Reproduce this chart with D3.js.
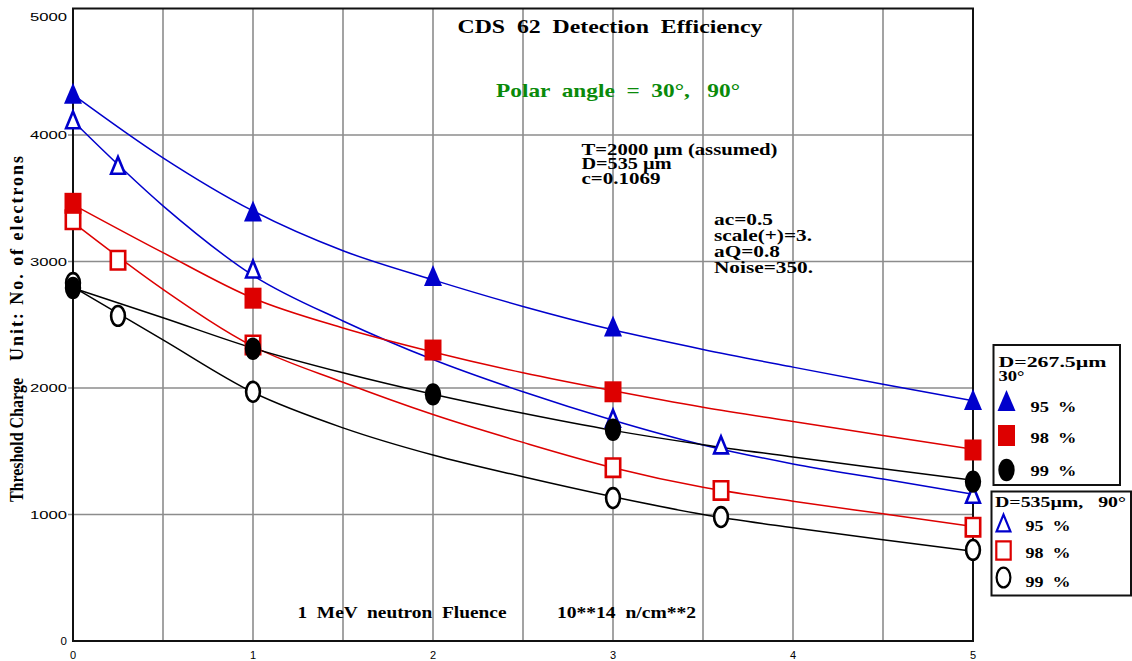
<!DOCTYPE html>
<html><head><meta charset="utf-8">
<script src="https://cdn.jsdelivr.net/npm/d3@7"></script>
<style>body{margin:0;background:#fff}svg{display:block}text{white-space:pre}</style>
</head><body><svg id="c" width="1132" height="661"></svg>
<script>
// ---------- data ----------
const xTickLabels = [0, 1, 2, 3, 4, 5];
const yTickLabels = [0, 1000, 2000, 3000, 4000, 5000];
const xGrid = [0.5, 1, 1.5, 2, 2.5, 3, 3.5, 4, 4.5];
const yGrid = [1000, 2000, 3000, 4000];

// measured points (markers)
const xA = [0, 1, 2, 3, 5];             const vA = [4330, 3400, 2890, 2490, 1910]; // D=267.5um 30deg 95%
const xC = [0, 1, 2, 3, 5];             const vC = [3460, 2710, 2300, 1970, 1510]; // 98%
const xE = [0, 1, 2, 3, 5];             const vE = [2790, 2310, 1950, 1670, 1260]; // 99%
const xB = [0, 0.25, 1, 3, 3.6, 5];     const vB = [4120, 3760, 2940, 1760, 1550, 1160]; // D=535um 90deg 95%
const xD = [0, 0.25, 1, 3, 3.6, 5];     const vD = [3330, 3010, 2340, 1370, 1190, 900];  // 98%
const xF = [0, 0.25, 1, 3, 3.6, 5];     const vF = [2830, 2570, 1970, 1130, 980, 720];   // 99%

// fitted curves
const fitX = [0, 0.5, 1, 1.5, 2, 2.5, 3, 3.5, 4, 4.5, 5];
const fitA = [4320, 3820, 3400, 3085, 2855, 2645, 2460, 2305, 2165, 2030, 1900];
const fitB = [4110, 3440, 2890, 2530, 2225, 1970, 1745, 1550, 1400, 1280, 1160];
const fitC = [3450, 3070, 2710, 2475, 2285, 2120, 1978, 1848, 1735, 1625, 1515];
const fitD = [3310, 2780, 2330, 2045, 1790, 1570, 1370, 1215, 1105, 1005, 905];
const fitE = [2790, 2555, 2315, 2120, 1950, 1800, 1665, 1552, 1455, 1362, 1270];
const fitF = [2800, 2380, 1965, 1685, 1470, 1298, 1140, 1000, 895, 800, 710];

const legend1Title = ["D=267.5\u00b5m", "30\u00b0"];
const legend2Title = "D=535\u00b5m,   90\u00b0";
const legendLabels = ["95  %", "98  %", "99  %"];

// ---------- setup ----------
const BLUE = "#0000cc", RED = "#dd0000", BLACK = "#000", GREEN = "#0a8a0a";
const svg = d3.select("#c");
const x = d3.scaleLinear().domain([0, 5]).range([73, 973]);
const y = d3.scaleLinear().domain([0, 5000]).range([641, 8.5]);
const serif = "'Liberation Serif','Times New Roman',serif";
const sans = "'Liberation Sans',Arial,sans-serif";

// grid
svg.append("g").selectAll("line").data(xGrid).join("line")
  .attr("x1", d => x(d)).attr("x2", d => x(d)).attr("y1", y(5000)).attr("y2", y(0))
  .attr("stroke", "#8c8c8c").attr("stroke-width", 1.6);
svg.append("g").selectAll("line").data(yGrid).join("line")
  .attr("x1", x(0) - 5).attr("x2", x(5)).attr("y1", d => y(d)).attr("y2", d => y(d))
  .attr("stroke", "#8c8c8c").attr("stroke-width", 1.6);

// frame
svg.append("rect").attr("x", x(0)).attr("y", y(5000)).attr("width", x(5) - x(0)).attr("height", y(0) - y(5000))
  .attr("fill", "none").attr("stroke", "#111").attr("stroke-width", 2);

// tick labels
svg.append("g").selectAll("text").data(xTickLabels).join("text")
  .attr("x", d => x(d)).attr("y", 659).attr("text-anchor", "middle")
  .attr("font-family", sans).attr("font-size", 11).text(d => d);
svg.append("g").selectAll("text").data(yTickLabels).join("text")
  .attr("x", 67).attr("y", d => Math.max(y(d), 17)).attr("dy", "0.36em").attr("text-anchor", "end")
  .attr("font-family", sans).attr("font-size", 11.5)
  .each(function(d) { if (String(d).length === 4) d3.select(this).attr("textLength", 37).attr("lengthAdjust", "spacingAndGlyphs"); })
  .text(d => d);

// marker path generator
function markerPath(type, cx, cy, open) {
  const s = open ? 1.3 : 0; // inset half stroke
  if (type === "tri") {
    const w = 18 - 2 * s * 1.6, h = 21 - 2 * s * 1.6;
    return `M${cx},${cy - h / 2}L${cx + w / 2},${cy + h / 2}L${cx - w / 2},${cy + h / 2}Z`;
  }
  if (type === "sq") {
    const w = 17 - 2 * s, h = 21 - 2 * s;
    return `M${cx - w / 2},${cy - h / 2}h${w}v${h}h${-w}Z`;
  }
  const rx = 8.2 - s, ry = 11.2 - s;
  return `M${cx - rx},${cy}a${rx},${ry} 0 1,0 ${2 * rx},0a${rx},${ry} 0 1,0 ${-2 * rx},0Z`;
}

const series = [
  { xs: xB, vs: vB, fit: fitB, type: "tri", color: BLUE, open: true },
  { xs: xD, vs: vD, fit: fitD, type: "sq", color: RED, open: true },
  { xs: xF, vs: vF, fit: fitF, type: "circ", color: BLACK, open: true },
  { xs: xA, vs: vA, fit: fitA, type: "tri", color: BLUE, open: false },
  { xs: xC, vs: vC, fit: fitC, type: "sq", color: RED, open: false },
  { xs: xE, vs: vE, fit: fitE, type: "circ", color: BLACK, open: false },
];

const line = d3.line().x(d => x(d[0])).y(d => y(d[1])).curve(d3.curveMonotoneX);
const gLines = svg.append("g");
series.forEach(s => {
  gLines.append("path").datum(fitX.map((d, i) => [d, s.fit[i]]))
    .attr("d", line).attr("fill", "none").attr("stroke", s.color).attr("stroke-width", 1.5);
});
const gMarks = svg.append("g");
series.forEach(s => {
  gMarks.selectAll(null).data(s.xs.map((d, i) => [d, s.vs[i]])).join("path")
    .attr("d", d => markerPath(s.type, x(d[0]), y(d[1]), s.open))
    .attr("fill", s.open ? "#fff" : s.color)
    .attr("stroke", s.open ? s.color : "none").attr("stroke-width", 2.6);
});

// ---------- texts ----------
function txt(str, tx, ty, size, len, color, extra, adj) {
  const t = svg.append("text").attr("x", tx).attr("y", ty).attr("font-family", serif)
    .attr("font-weight", "bold").attr("font-size", size).attr("fill", color || "#000").text(str);
  if (len) t.attr("textLength", len).attr("lengthAdjust", adj || "spacingAndGlyphs");
  if (extra) extra(t);
  return t;
}
txt("CDS  62  Detection  Efficiency", 457.5, 33, 19, 305);
txt("Polar  angle  =  30\u00b0,   90\u00b0", 496, 97, 19, 244, GREEN);
txt("T=2000 \u00b5m (assumed)", 581.5, 155, 17, 196);
txt("D=535 \u00b5m", 581.5, 169, 17, 90);
txt("c=0.1069", 581.5, 183.5, 17, 79);
txt("ac=0.5", 714, 225, 17, 59);
txt("scale(+)=3.", 714, 241, 17, 98);
txt("aQ=0.8", 714, 257, 17, 66);
txt("Noise=350.", 714, 272.5, 17, 99);
txt("1  MeV  neutron  Fluence", 297.5, 617.5, 17, 209);
txt("10**14  n/cm**2", 557, 617.5, 17, 139);
txt("Threshold Charge", 0, 0, 18, 124, null, t => t.attr("transform", "translate(23,502) rotate(-90)"));
txt("Unit: No. of electrons", 0, 0, 18, 205, null, t => t.attr("transform", "translate(23,361) rotate(-90)"), "spacing");

// ---------- legends ----------
svg.append("rect").attr("x", 993.5).attr("y", 345).attr("width", 126.5).attr("height", 140)
  .attr("fill", "#fff").attr("stroke", "#111").attr("stroke-width", 2);
svg.append("rect").attr("x", 991.5).attr("y", 491.5).attr("width", 139.5).attr("height", 104)
  .attr("fill", "#fff").attr("stroke", "#111").attr("stroke-width", 2);

txt(legend1Title[0], 998.5, 366.5, 15, 108);
txt(legend1Title[1], 998.5, 380.5, 15, 26);
txt(legend2Title, 995, 506.5, 15, 131);

const leg1 = series.slice(3), leg2 = series.slice(0, 3);
const leg1Y = [400.5, 435.5, 470], leg1TY = [411.5, 442.5, 476];
const leg2Y = [523, 550.5, 577.5], leg2TY = [530.5, 557.5, 586.5];
leg1.forEach((s, i) => {
  svg.append("path").attr("d", markerPath(s.type, 1006.5, leg1Y[i], false)).attr("fill", s.color);
  txt(legendLabels[i], 1030.5, leg1TY[i], 15, 46);
});
leg2.forEach((s, i) => {
  svg.append("path").attr("d", markerPath(s.type, 1003.5, leg2Y[i], true))
    .attr("fill", "#fff").attr("stroke", s.color).attr("stroke-width", 2.2);
  txt(legendLabels[i], 1025.5, leg2TY[i], 15, 45);
});
</script></body></html>
